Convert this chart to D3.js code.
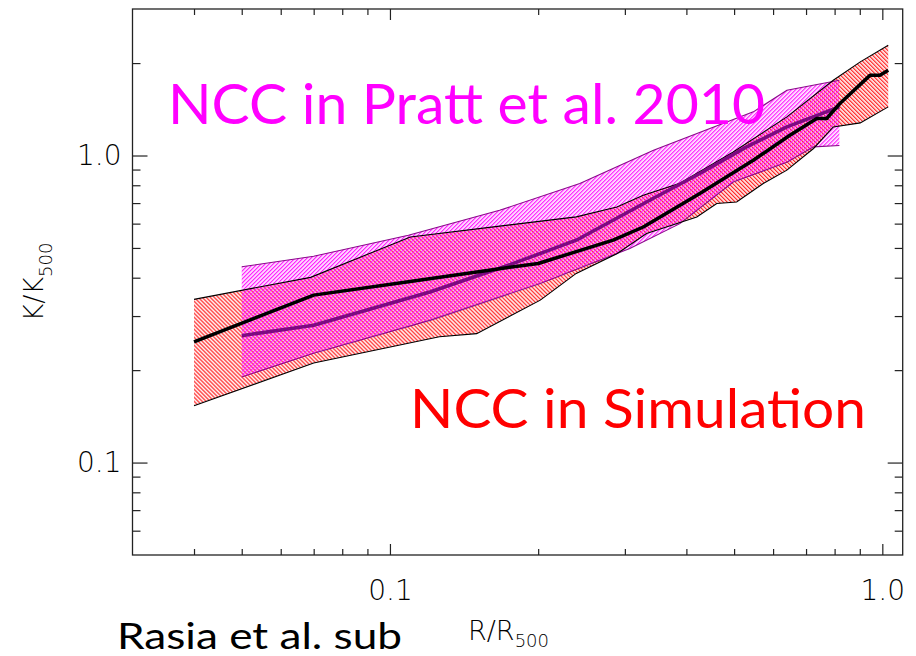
<!DOCTYPE html>
<html>
<head>
<meta charset="utf-8">
<script src="https://cdn.jsdelivr.net/npm/d3@7"></script>
<style>
  html, body { margin: 0; padding: 0; background: #fff; }
  svg { display: block; }
</style>
</head>
<body>
<svg id="chart" width="916" height="656"></svg>
<script>
// ---------------- data ----------------
// Simulation (NCC) band: upper envelope, median, lower envelope
const simUpperX = [0.040, 0.069, 0.110, 0.167, 0.239, 0.289, 0.327, 0.388, 0.498, 0.640, 0.795, 0.902, 1.028];
const simUpperY = [0.340, 0.401, 0.543, 0.589, 0.631, 0.680, 0.742, 0.812, 1.027, 1.336, 1.759, 2.018, 2.287];

const simMedX = [0.040, 0.070, 0.109, 0.167, 0.200, 0.284, 0.327, 0.426, 0.547, 0.649, 0.736, 0.771, 0.820, 0.945, 0.989, 1.028];
const simMedY = [0.247, 0.351, 0.388, 0.428, 0.445, 0.530, 0.585, 0.752, 0.965, 1.164, 1.320, 1.320, 1.477, 1.827, 1.827, 1.896];

const simLowX = [0.040, 0.070, 0.126, 0.150, 0.202, 0.239, 0.289, 0.332, 0.420, 0.461, 0.506, 0.573, 0.640, 0.725, 0.795, 0.902, 1.028];
const simLowY = [0.153, 0.211, 0.257, 0.263, 0.338, 0.413, 0.479, 0.557, 0.631, 0.698, 0.706, 0.811, 0.896, 1.054, 1.239, 1.277, 1.440];

// Pratt et al. 2010 (NCC) band
const prattUpX = [0.050, 0.070, 0.109, 0.167, 0.243, 0.343, 0.547, 0.640, 0.818];
const prattUpY = [0.434, 0.470, 0.550, 0.663, 0.811, 1.040, 1.387, 1.632, 1.759];

const prattLowX = [0.050, 0.070, 0.121, 0.202, 0.307, 0.388, 0.498, 0.640, 0.725, 0.818];
const prattLowY = [0.190, 0.227, 0.291, 0.383, 0.498, 0.600, 0.820, 0.951, 1.067, 1.078];

const prattMedX = [0.050, 0.070, 0.121, 0.178, 0.239, 0.337, 0.426, 0.530, 0.640, 0.818];
const prattMedY = [0.259, 0.280, 0.360, 0.445, 0.530, 0.715, 0.874, 1.067, 1.239, 1.440];

// Axes
const xDomain = [0.03, 1.1];
const yDomain = [0.05, 3];
const xMajorTicks = [0.1, 1.0];
const xMajorLabels = ["0.1", "1.0"];
const xMinorTicks = [0.04, 0.05, 0.06, 0.07, 0.08, 0.09, 0.2, 0.3, 0.4, 0.5, 0.6, 0.7, 0.8, 0.9];
const yMajorTicks = [0.1, 1.0];
const yMajorLabels = ["0.1", "1.0"];
const yMinorTicks = [0.06, 0.07, 0.08, 0.09, 0.2, 0.3, 0.4, 0.5, 0.6, 0.7, 0.8, 0.9, 2];

// ---------------- layout ----------------
const L = 132.5, R = 902.7, T = 9, B = 555;
const svg = d3.select("#chart");

const x = d3.scaleLog().domain(xDomain).range([L, R]);
const y = d3.scaleLog().domain(yDomain).range([B, T]);

const zip = (xs, ys) => xs.map((v, i) => [v, ys[i]]);
const line = d3.line().x(d => x(d[0])).y(d => y(d[1]));

// ---------------- hatch patterns ----------------
const defs = svg.append("defs");
defs.append("pattern")
  .attr("id", "redHatch").attr("patternUnits", "userSpaceOnUse")
  .attr("width", 2.83).attr("height", 10).attr("patternTransform", "rotate(-45)")
  .append("rect").attr("x", 0).attr("y", 0).attr("width", 1.3).attr("height", 10).attr("fill", "#ff2a2a");

defs.append("pattern")
  .attr("id", "magHatch").attr("patternUnits", "userSpaceOnUse")
  .attr("width", 2.83).attr("height", 10).attr("patternTransform", "rotate(45)")
  .append("rect").attr("x", 0).attr("y", 0).attr("width", 1.3).attr("height", 10).attr("fill", "#ff22ff");

// ---------------- bands ----------------
const simUp = zip(simUpperX, simUpperY);
const simLo = zip(simLowX, simLowY);
const prUp = zip(prattUpX, prattUpY);
const prLo = zip(prattLowX, prattLowY);

svg.append("path")
  .attr("d", line(simUp.concat(simLo.slice().reverse())) + "Z")
  .attr("fill", "url(#redHatch)").attr("stroke", "none");

svg.append("path")
  .attr("d", line(prUp.concat(prLo.slice().reverse())) + "Z")
  .attr("fill", "url(#magHatch)").attr("stroke", "none");

// outlines
[prUp, prLo].forEach(pts => {
  svg.append("path").attr("d", line(pts)).attr("fill", "none")
    .attr("stroke", "#8a0a8a").attr("stroke-width", 1.1);
});
[simUp, simLo].forEach(pts => {
  svg.append("path").attr("d", line(pts)).attr("fill", "none")
    .attr("stroke", "#000").attr("stroke-width", 1.1);
});

// medians
svg.append("path").attr("d", line(zip(prattMedX, prattMedY))).attr("fill", "none")
  .attr("stroke", "#7d0a82").attr("stroke-width", 3.5).attr("stroke-linejoin", "round");
svg.append("path").attr("d", line(zip(simMedX, simMedY))).attr("fill", "none")
  .attr("stroke", "#000").attr("stroke-width", 3.5).attr("stroke-linejoin", "round");

// ---------------- axes ----------------
const tickFont = "'DejaVu Sans ExtraLight', 'DejaVu Sans', sans-serif";
function styleAxis(g) {
  g.select(".domain").remove();
  g.selectAll(".tick line").attr("stroke", "#222").attr("stroke-width", 1.2);
  g.selectAll("text").attr("font-family", tickFont).attr("font-size", 28)
    .attr("font-weight", 200).attr("fill", "#000");
}

// bottom
svg.append("g").attr("transform", `translate(0,${B})`)
  .call(d3.axisBottom(x).tickValues(xMajorTicks).tickFormat((d, i) => xMajorLabels[i])
    .tickSizeInner(-11).tickSizeOuter(0).tickPadding(25))
  .call(styleAxis);
svg.append("g").attr("transform", `translate(0,${B})`)
  .call(d3.axisBottom(x).tickValues(xMinorTicks).tickFormat("").tickSizeInner(-6).tickSizeOuter(0))
  .call(styleAxis);
// top
svg.append("g").attr("transform", `translate(0,${T})`)
  .call(d3.axisTop(x).tickValues(xMajorTicks).tickFormat("").tickSizeInner(-11).tickSizeOuter(0))
  .call(styleAxis);
svg.append("g").attr("transform", `translate(0,${T})`)
  .call(d3.axisTop(x).tickValues(xMinorTicks).tickFormat("").tickSizeInner(-6).tickSizeOuter(0))
  .call(styleAxis);
// left
svg.append("g").attr("transform", `translate(${L},0)`)
  .call(d3.axisLeft(y).tickValues(yMajorTicks).tickFormat((d, i) => yMajorLabels[i])
    .tickSizeInner(-15).tickSizeOuter(0).tickPadding(11))
  .call(styleAxis);
svg.append("g").attr("transform", `translate(${L},0)`)
  .call(d3.axisLeft(y).tickValues(yMinorTicks).tickFormat("").tickSizeInner(-8).tickSizeOuter(0))
  .call(styleAxis);
// right
svg.append("g").attr("transform", `translate(${R},0)`)
  .call(d3.axisRight(y).tickValues(yMajorTicks).tickFormat("").tickSizeInner(-15).tickSizeOuter(0))
  .call(styleAxis);
svg.append("g").attr("transform", `translate(${R},0)`)
  .call(d3.axisRight(y).tickValues(yMinorTicks).tickFormat("").tickSizeInner(-8).tickSizeOuter(0))
  .call(styleAxis);

// frame
svg.append("rect").attr("x", L).attr("y", T).attr("width", R - L).attr("height", B - T)
  .attr("fill", "none").attr("stroke", "#222").attr("stroke-width", 1.3);

// ---------------- axis titles ----------------
const xt = svg.append("text").attr("x", 468).attr("y", 640)
  .attr("font-family", tickFont).attr("font-weight", 200).attr("font-size", 27).attr("fill", "#000");
xt.append("tspan").text("R/R");
xt.append("tspan").attr("font-size", 18).attr("dy", 7).text("500");

const yt = svg.append("text").attr("transform", "translate(43,282) rotate(-90)")
  .attr("text-anchor", "middle")
  .attr("font-family", tickFont).attr("font-weight", 200).attr("font-size", 27).attr("fill", "#000");
yt.append("tspan").text("K/K");
yt.append("tspan").attr("font-size", 18).attr("dy", 9).text("500");

// ---------------- annotations ----------------
const annFont = "Lato, 'Open Sans', sans-serif";
svg.append("text").attr("x", 168).attr("y", 124)
  .attr("font-family", annFont).attr("font-size", 57).attr("fill", "#ff00ff")
  .attr("textLength", 597).attr("lengthAdjust", "spacingAndGlyphs")
  .text("NCC in Pratt et al. 2010");

svg.append("text").attr("x", 410).attr("y", 427.5)
  .attr("font-family", annFont).attr("font-size", 55).attr("fill", "#ff0000")
  .attr("textLength", 456).attr("lengthAdjust", "spacingAndGlyphs")
  .text("NCC in Simulation");

svg.append("text").attr("x", 117).attr("y", 649)
  .attr("font-family", annFont).attr("font-size", 36).attr("fill", "#000")
  .attr("textLength", 285).attr("lengthAdjust", "spacingAndGlyphs")
  .text("Rasia et al. sub");
</script>
</body>
</html>
